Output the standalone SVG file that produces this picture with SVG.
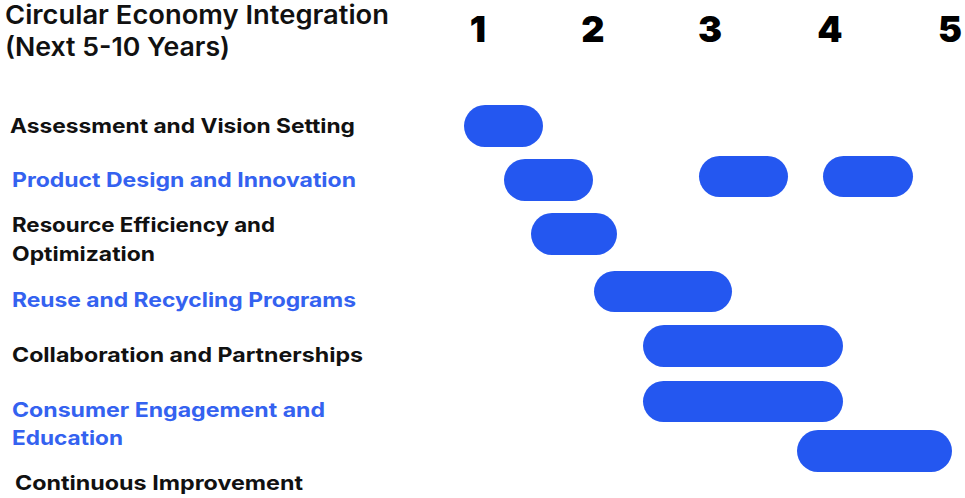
<svg xmlns="http://www.w3.org/2000/svg" width="965" height="498" viewBox="0 0 965 498">
<style>
text{font-family:Inter,"Noto Sans","Liberation Sans",sans-serif}
.title{font-size:26px;font-weight:600;fill:#111}
.yr{font-size:36px;font-weight:900;fill:#000;text-anchor:middle}
.lbl{font-size:20px;font-weight:700;fill:#111}
.blue{fill:#3462F0}
.bar{fill:#2457F0}
</style>
<rect width="965" height="498" fill="#fff"/>
<g id="title">
<text class="title" x="5" y="24" textLength="384" lengthAdjust="spacingAndGlyphs">Circular Economy Integration</text>
<text class="title" x="5" y="56" textLength="225" lengthAdjust="spacingAndGlyphs">(Next 5-10 Years)</text>
</g>
<g id="years">
<text class="yr" x="478" y="42">1</text>
<text class="yr" x="593" y="42">2</text>
<text class="yr" x="710" y="42">3</text>
<text class="yr" x="830" y="42">4</text>
<text class="yr" x="950" y="42">5</text>
</g>
<g id="assessment">
<text class="lbl" x="10" y="133" textLength="345" lengthAdjust="spacingAndGlyphs">Assessment and Vision Setting</text>
<rect class="bar" x="464" y="105" width="79" height="42" rx="21"/>
</g>
<g id="product-design">
<text class="lbl blue" x="12" y="187" textLength="344" lengthAdjust="spacingAndGlyphs">Product Design and Innovation</text>
<rect class="bar" x="504" y="159" width="89" height="42" rx="21"/>
<rect class="bar" x="699" y="156" width="89" height="41" rx="20.5"/>
<rect class="bar" x="823" y="156" width="90" height="41" rx="20.5"/>
</g>
<g id="resource-efficiency">
<text class="lbl" x="12" y="232" textLength="263" lengthAdjust="spacingAndGlyphs">Resource Efficiency and</text>
<text class="lbl" x="12" y="261" textLength="143" lengthAdjust="spacingAndGlyphs">Optimization</text>
<rect class="bar" x="531" y="213" width="86" height="42" rx="21"/>
</g>
<g id="reuse-recycling">
<text class="lbl blue" x="12" y="307" textLength="344" lengthAdjust="spacingAndGlyphs">Reuse and Recycling Programs</text>
<rect class="bar" x="594" y="271" width="138" height="41" rx="20.5"/>
</g>
<g id="collaboration">
<text class="lbl" x="12" y="362" textLength="351" lengthAdjust="spacingAndGlyphs">Collaboration and Partnerships</text>
<rect class="bar" x="643" y="325" width="200" height="42" rx="21"/>
</g>
<g id="consumer-engagement">
<text class="lbl blue" x="12" y="417" textLength="313" lengthAdjust="spacingAndGlyphs">Consumer Engagement and</text>
<text class="lbl blue" x="12" y="445" textLength="111" lengthAdjust="spacingAndGlyphs">Education</text>
<rect class="bar" x="643" y="381" width="200" height="41" rx="20.5"/>
</g>
<g id="continuous-improvement">
<text class="lbl" x="15" y="490" textLength="288" lengthAdjust="spacingAndGlyphs">Continuous Improvement</text>
<rect class="bar" x="797" y="430" width="155" height="42" rx="21"/>
</g>
<g id="connectors"></g>
</svg>
